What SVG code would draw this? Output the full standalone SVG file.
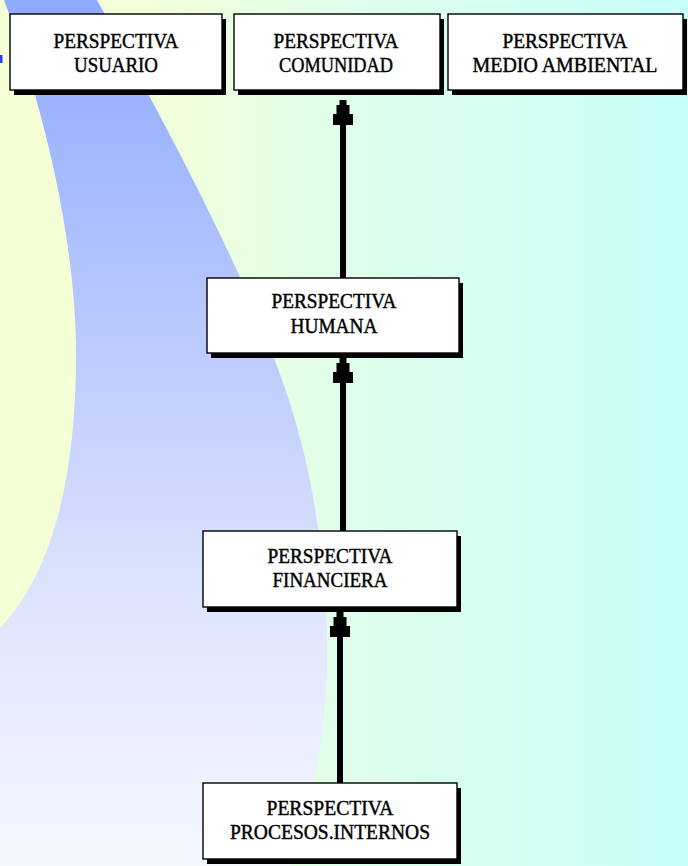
<svg xmlns="http://www.w3.org/2000/svg" width="688" height="866" viewBox="0 0 688 866">
  <defs>
    <linearGradient id="bgRight" x1="0" y1="0" x2="688" y2="0" gradientUnits="userSpaceOnUse">
      <stop offset="0.2" stop-color="#f3ffd8"/>
      <stop offset="0.5" stop-color="#e0feea"/>
      <stop offset="1" stop-color="#c6fffa"/>
    </linearGradient>
    <linearGradient id="swoosh" x1="0" y1="0" x2="0" y2="866" gradientUnits="userSpaceOnUse">
      <stop offset="0" stop-color="#8eaaff"/>
      <stop offset="0.35" stop-color="#b6c6fe"/>
      <stop offset="0.7" stop-color="#dfe5fd"/>
      <stop offset="1" stop-color="#f5f7ff"/>
    </linearGradient>
    <!-- stepped arrowhead, tip at (0,0) -->
    <path id="head" d="M-3.5,0 H3.5 V5 H6.5 V14 H10 V25 H-10 V14 H-6.5 V5 H-3.5 Z"/>
    <style>
      .box { fill: #ffffff; stroke: #000000; stroke-width: 1.4; }
      .shadow { fill: #000000; }
      .lbl { font-family: "Liberation Serif", "Times New Roman", serif; font-size: 22px; fill: #000000; stroke: #000000; stroke-width: 0.45; text-anchor: middle; }
      .conn { stroke: #000000; stroke-width: 6; fill: none; }
    </style>
  </defs>

  <!-- background -->
  <g id="background">
    <rect x="0" y="0" width="688" height="866" fill="url(#bgRight)"/>
    <path d="M0,0 L97,0 C180,150 270,320 300,438 C322,520 335,640 322,730 C315,790 300,830 290,866 L0,866 Z" fill="url(#swoosh)"/>
    <path d="M0,0 L4,0 C32,75 76,220 76,355 C76,470 55,570 0,628 Z" fill="#f5ffd6"/>
    <rect x="0" y="55" width="2.5" height="8" fill="#2a3cff"/>
  </g>

  <!-- connectors -->
  <g id="connectors">
    <line class="conn" x1="343" y1="120" x2="343" y2="278"/>
    <use href="#head" transform="translate(343,100)"/>
    <line class="conn" x1="343" y1="378" x2="343" y2="531"/>
    <use href="#head" transform="translate(343,358)"/>
    <line class="conn" x1="340" y1="632" x2="340" y2="783"/>
    <use href="#head" transform="translate(340,612)"/>
  </g>

  <!-- nodes -->
  <g id="usuario">
    <rect class="shadow" x="14" y="19" width="212" height="76"/>
    <rect class="box" x="10" y="14" width="212" height="76"/>
    <text class="lbl" x="116" y="48" textLength="125" lengthAdjust="spacingAndGlyphs">PERSPECTIVA</text>
    <text class="lbl" x="116" y="72" textLength="84" lengthAdjust="spacingAndGlyphs">USUARIO</text>
  </g>
  <g id="comunidad">
    <rect class="shadow" x="238" y="19" width="206" height="76"/>
    <rect class="box" x="234" y="14" width="206" height="76"/>
    <text class="lbl" x="336" y="48" textLength="125" lengthAdjust="spacingAndGlyphs">PERSPECTIVA</text>
    <text class="lbl" x="336" y="72" textLength="114" lengthAdjust="spacingAndGlyphs">COMUNIDAD</text>
  </g>
  <g id="medio-ambiental">
    <rect class="shadow" x="452" y="19" width="235" height="76"/>
    <rect class="box" x="448" y="14" width="235" height="76"/>
    <text class="lbl" x="565" y="48" textLength="125" lengthAdjust="spacingAndGlyphs">PERSPECTIVA</text>
    <text class="lbl" x="565" y="72" textLength="185" lengthAdjust="spacingAndGlyphs">MEDIO AMBIENTAL</text>
  </g>
  <g id="humana">
    <rect class="shadow" x="211" y="283" width="252" height="75"/>
    <rect class="box" x="207" y="278" width="252" height="75"/>
    <text class="lbl" x="334" y="308" textLength="125" lengthAdjust="spacingAndGlyphs">PERSPECTIVA</text>
    <text class="lbl" x="334" y="333" textLength="87" lengthAdjust="spacingAndGlyphs">HUMANA</text>
  </g>
  <g id="financiera">
    <rect class="shadow" x="207" y="536" width="254" height="76"/>
    <rect class="box" x="203" y="531" width="254" height="76"/>
    <text class="lbl" x="330" y="563" textLength="125" lengthAdjust="spacingAndGlyphs">PERSPECTIVA</text>
    <text class="lbl" x="330" y="587" textLength="115" lengthAdjust="spacingAndGlyphs">FINANCIERA</text>
  </g>
  <g id="procesos-internos">
    <rect class="shadow" x="207" y="788" width="254" height="76"/>
    <rect class="box" x="203" y="783" width="254" height="76"/>
    <text class="lbl" x="330" y="815" textLength="127" lengthAdjust="spacingAndGlyphs">PERSPECTIVA</text>
    <text class="lbl" x="330" y="839" textLength="200" lengthAdjust="spacingAndGlyphs">PROCESOS.INTERNOS</text>
  </g>
</svg>
